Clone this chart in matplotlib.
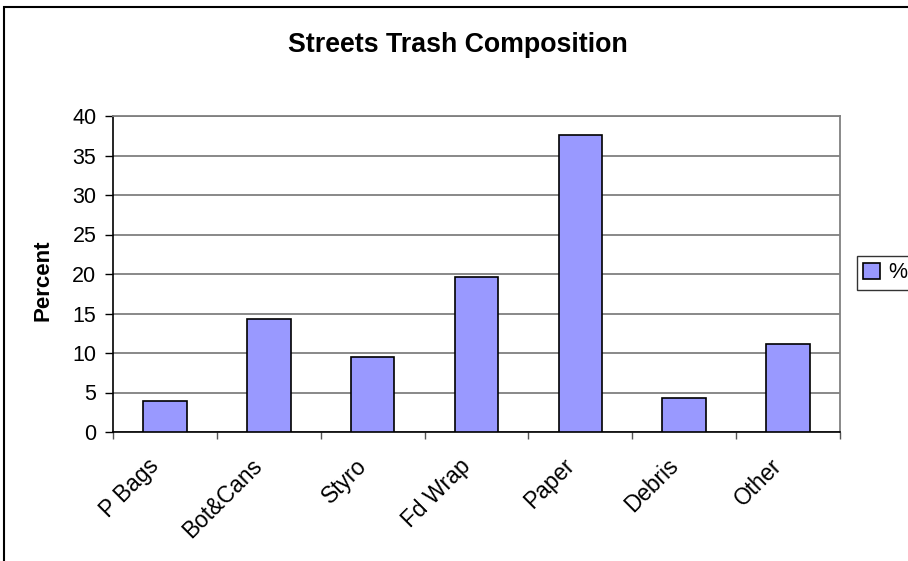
import matplotlib
matplotlib.use("Agg")
import matplotlib.pyplot as plt
from matplotlib.patches import Rectangle, Patch
from matplotlib.transforms import ScaledTranslation
import numpy as np

categories = ["P Bags", "Bot&Cans", "Styro", "Fd Wrap", "Paper", "Debris", "Other"]
values = [3.9, 14.3, 9.5, 19.6, 37.6, 4.3, 11.1]
yticks = [0, 5, 10, 15, 20, 25, 30, 35, 40]
series_name = "%"

plt.rcParams['font.family'] = ['Liberation Sans', 'DejaVu Sans']

W, H = 908, 561
fig = plt.figure(figsize=(W / 100, H / 100), dpi=100)
fig.patch.set_facecolor("white")

# chart area border (extends off the right and bottom edges)
fig.patches.append(Rectangle((4 / W, -0.2), 1.2, 1 - 7 / H + 0.2, transform=fig.transFigure,
                             fill=False, edgecolor="black", linewidth=1.5))

ax = fig.add_axes([113 / W, 1 - 432 / H, (840 - 113) / W, (432 - 116) / H])
x = np.arange(len(categories))
ax.bar(x, values, width=0.42, color="#9999FF", edgecolor="black", linewidth=1.2,
       zorder=3, label=series_name)

ax.set_xlim(-0.5, len(categories) - 0.5)
ax.set_ylim(0, 40)
ax.set_yticks(yticks)
ax.set_yticklabels([str(t) for t in yticks], fontsize=15.5)
ax.yaxis.grid(True, color="#7f7f7f", linewidth=1.3, zorder=0)
ax.set_axisbelow(True)

ax.set_xticks(x)
ax.set_xticklabels(categories, fontsize=16.3, rotation=45, ha="right", rotation_mode="anchor")
ax.tick_params(axis="x", which="major", length=0, pad=16)
shift = ScaledTranslation(-0.18, 0, fig.dpi_scale_trans)
for lbl in ax.get_xticklabels():
    lbl.set_transform(lbl.get_transform() + shift)
ax.set_xticks(np.arange(-0.5, len(categories), 1), minor=True)
ax.tick_params(axis="x", which="minor", length=5, width=1, color="#555555", direction="out")
ax.tick_params(axis="y", length=6, width=1, direction="out", pad=6)

for s in ["left", "bottom"]:
    ax.spines[s].set_color("black")
    ax.spines[s].set_linewidth(1.2)
ax.spines["right"].set_color("#808080")
ax.spines["right"].set_linewidth(1.3)
ax.spines["top"].set_color("#7f7f7f")
ax.spines["top"].set_linewidth(1.3)

ax.set_ylabel("Percent", fontsize=16, fontweight="bold")
ax.yaxis.set_label_coords(43.5 / W, 0.5, transform=fig.transFigure)
ax.yaxis.label.set_va("center")

fig.text(458 / W, 1 - 45 / H, "Streets Trash Composition", fontsize=19.3, fontweight="bold",
         ha="center", va="center")

leg = fig.legend(handles=[Patch(facecolor="#9999FF", edgecolor="black", linewidth=1.2, label=series_name)],
                 loc="center left", bbox_to_anchor=(857 / W, 1 - 273 / H), fontsize=15.5,
                 frameon=True, fancybox=False, handlelength=0.75, handleheight=0.75,
                 handletextpad=0.4, borderpad=0.3, borderaxespad=0)
leg.get_frame().set_edgecolor("black")
leg.get_frame().set_linewidth(1.0)

fig.savefig("out.png", dpi=100, facecolor="white")
